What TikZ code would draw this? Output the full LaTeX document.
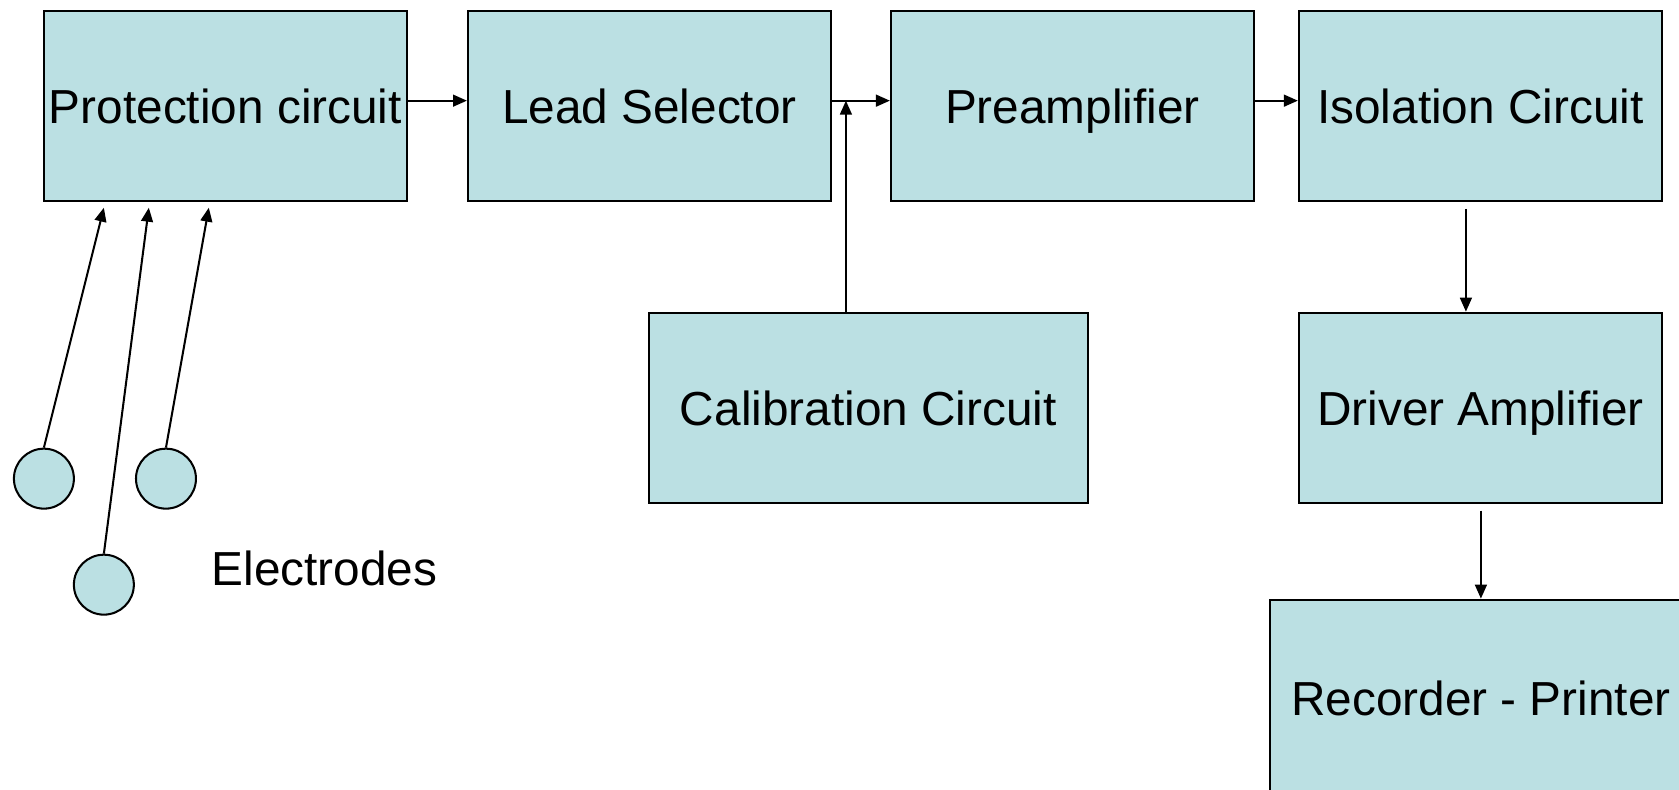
\documentclass[tikz,border=0pt]{standalone}
\usepackage{fontspec}
\setmainfont{Liberation Sans}
\usetikzlibrary{arrows.meta}
\definecolor{boxfill}{RGB}{187,224,227}
\begin{document}
\begin{tikzpicture}[x=1pt,y=-1pt,
 blk/.style={draw=black, fill=boxfill, line width=1.9pt, minimum width=339pt, minimum height=178pt, inner sep=0pt, text height=36pt, text depth=4pt, font=\fontsize{44.6}{50}\selectfont},
 elec/.style={circle, draw=black, fill=boxfill, line width=1.9pt, minimum size=56pt, inner sep=0pt},
 lbl/.style={inner sep=0pt, font=\fontsize{44.6}{50}\selectfont},
 arr/.style={line width=1.9pt, -{Triangle[length=13pt,width=11pt]}},
]
\clip (0,0) rectangle (1568,737);
\node[blk] (prot) at (210.5,99) {Protection circuit};
\node[blk] (lead) at (606.5,99) {Lead Selector};
\node[blk] (pre) at (1001.5,99) {Preamplifier};
\node[blk] (iso) at (1382.5,99) {Isolation Circuit};
\node[blk, minimum width=410pt] (cal) at (811,381) {Calibration Circuit};
\node[blk] (drv) at (1382.5,381) {Driver Amplifier};
\node[blk, minimum width=394pt, minimum height=185pt] (rec) at (1383,652.5) {Recorder - Printer};
\node[elec] (e1) at (41,447) {};
\node[elec] (e3) at (155,447) {};
\node[elec] (e2) at (97,546) {};
\node[lbl] (elab) at (303,531) {Electrodes};
\coordinate (t1) at (97,194);
\coordinate (t2) at (139,194);
\coordinate (t3) at (195,194);
\coordinate (j) at (790,94);
\draw[arr] ([yshift=5pt]prot.east) -- ([yshift=5pt]lead.west);
\draw[arr] ([yshift=5pt]lead.east) -- ([yshift=5pt]pre.west);
\draw[arr] ([yshift=5pt]pre.east) -- ([yshift=5pt]iso.west);
\draw[arr] (cal.north -| j) -- (j);
\draw[arr, shorten <=6pt] ([xshift=-13.5pt]iso.south) -- ([xshift=-13.5pt]iso.south |- drv.north);
\draw[arr, shorten <=6pt] (drv.south -| rec.north) -- (rec.north);
\draw[arr] (e1.north) -- (t1);
\draw[arr] (e2.north) -- (t2);
\draw[arr] (e3.north) -- (t3);
\end{tikzpicture}
\end{document}
